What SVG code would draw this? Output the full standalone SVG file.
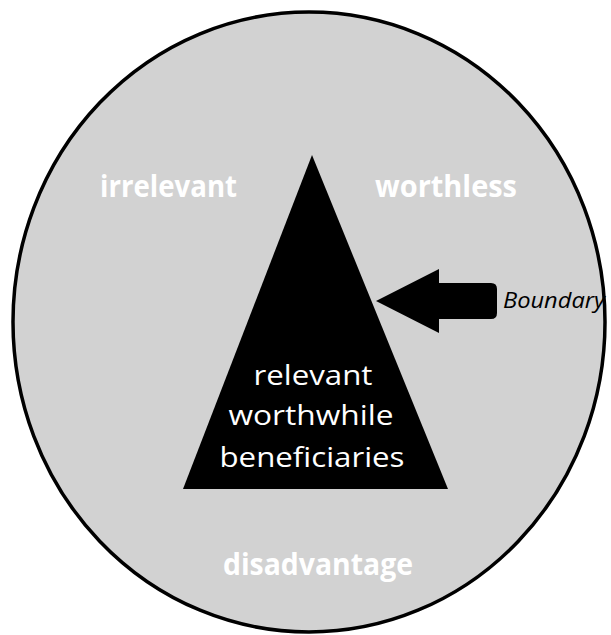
<svg xmlns="http://www.w3.org/2000/svg" width="611" height="635" viewBox="0 0 611 635">
<style>
.bg{fill:#ffffff}
.circ{fill:#d2d2d2;stroke:#000;stroke-width:3.5}
.outer{font-family:"Open Sans","Liberation Sans",sans-serif;font-weight:bold;font-size:30px;fill:#ffffff}
.inner{font-family:"Open Sans","Liberation Sans",sans-serif;font-size:28px;fill:#ffffff;text-anchor:middle}
.lbl{font-family:"Open Sans","Liberation Sans",sans-serif;font-style:italic;font-size:21px;fill:#000}
</style>
<rect class="bg" x="0" y="0" width="611" height="635"/>
<g id="circle">
<ellipse class="circ" cx="309" cy="322" rx="296" ry="310"/>
<text class="outer" x="100" y="197" textLength="137" lengthAdjust="spacingAndGlyphs">irrelevant</text>
<text class="outer" x="375" y="197" textLength="142" lengthAdjust="spacingAndGlyphs">worthless</text>
<text class="outer" x="223" y="575" textLength="190" lengthAdjust="spacingAndGlyphs">disadvantage</text>
</g>
<g id="triangle">
<polygon points="312,155 448,489 183,489" fill="#000"/>
<text class="inner" x="313" y="385" textLength="119" lengthAdjust="spacingAndGlyphs">relevant</text>
<text class="inner" x="311" y="425" textLength="165" lengthAdjust="spacingAndGlyphs">worthwhile</text>
<text class="inner" x="312" y="467" textLength="185" lengthAdjust="spacingAndGlyphs">beneficiaries</text>
</g>
<g id="connectors">
<path d="M376,301 L439,269 L439,283 L491,283 Q497,283 497,289 L497,313 Q497,319 491,319 L439,319 L439,333 Z" fill="#000"/>
</g>
<g id="boundary">
<text class="lbl" x="503" y="308" textLength="102" lengthAdjust="spacingAndGlyphs">Boundary</text>
</g>
</svg>
